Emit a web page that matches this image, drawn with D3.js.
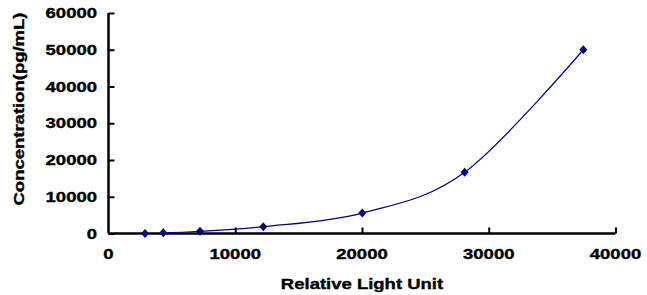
<!DOCTYPE html>
<html>
<head>
<meta charset="utf-8">
<script src="https://cdn.jsdelivr.net/npm/d3@7"></script>
<style>
  body { margin: 0; background: #fff; }
  text { font-family: "Liberation Sans", Arial, sans-serif; font-weight: bold; fill: #000; stroke: #000; stroke-width: 0.35px; }
</style>
</head>
<body>
<svg id="chart" width="647" height="295"></svg>
<script>
"use strict";

// standard curve points
const rlu = [2880, 4320, 7220, 12210, 20020, 28100, 37460];
const conc = [0, 206, 617, 1852, 5556, 16667, 50000];

const xTicks = [0, 10000, 20000, 30000, 40000];
const yTicks = [0, 10000, 20000, 30000, 40000, 50000, 60000];

const xTitle = "Relative Light Unit";
const yTitle = "Concentration(pg/mL)";

const svg = d3.select("#chart");
const navy = "#000080";
const stretch = 1.32; // labels in the picture are drawn wider than the font

let x = d3.scaleLinear().domain([0, 40000]).range([108.5, 615.5]);
let y = d3.scaleLinear().domain([0, 60000]).range([233.5, 13]);

function widen(sel) {
  sel.each(function() {
    let w = this.getComputedTextLength();
    d3.select(this).attr("textLength", w * stretch).attr("lengthAdjust", "spacingAndGlyphs");
  });
}

// y axis, ticks point inward
let yAxis = svg.append("g")
  .attr("transform", "translate(" + x(0) + ",0)")
  .call(d3.axisRight(y).tickValues(yTicks).tickSize(6).tickFormat(""));
yAxis.select(".domain").attr("d", "M0," + y(60000) + "V" + y(0))
  .attr("stroke", "#000").attr("stroke-width", 2.5);
yAxis.selectAll(".tick line").attr("stroke", "#000").attr("stroke-width", 2);

svg.append("g").selectAll("text")
  .data(yTicks)
  .join("text")
  .attr("x", 97)
  .attr("y", d => y(d) + 5)
  .attr("text-anchor", "end")
  .attr("font-size", 14)
  .text(d => d)
  .call(widen);

// x axis, ticks point up
let xAxis = svg.append("g")
  .attr("transform", "translate(0," + y(0) + ")")
  .call(d3.axisTop(x).tickValues(xTicks.slice(1)).tickSize(6).tickFormat(""));
xAxis.select(".domain").attr("d", "M" + x(0) + ",0H" + x(40000))
  .attr("stroke", "#000").attr("stroke-width", 2.5);
xAxis.selectAll(".tick line").attr("stroke", "#000").attr("stroke-width", 2);

svg.append("g").selectAll("text")
  .data(xTicks)
  .join("text")
  .attr("x", d => x(d))
  .attr("y", 259)
  .attr("text-anchor", "middle")
  .attr("font-size", 14)
  .text(d => d)
  .call(widen);

// axis titles
svg.append("text")
  .attr("x", 362)
  .attr("y", 289)
  .attr("text-anchor", "middle")
  .attr("font-size", 14)
  .text(xTitle)
  .call(widen);

svg.append("text")
  .attr("transform", "translate(24,109) rotate(-90)")
  .attr("text-anchor", "middle")
  .attr("font-size", 14)
  .text(yTitle)
  .call(widen);

// smoothed standard curve
let pts = rlu.map((v, i) => [v, conc[i]]);
let line = d3.line()
  .x(d => x(d[0]))
  .y(d => y(d[1]))
  .curve(d3.curveCatmullRom.alpha(0));

svg.append("path")
  .datum(pts.slice(1))
  .attr("d", line)
  .attr("fill", "none")
  .attr("stroke", navy)
  .attr("stroke-width", 1.2);

// diamond markers
svg.append("g").selectAll("path")
  .data(pts)
  .join("path")
  .attr("d", d => {
    let cx = x(d[0]), cy = y(d[1]);
    return "M" + cx + "," + (cy - 4.5) + "L" + (cx + 4) + "," + cy +
      "L" + cx + "," + (cy + 4.5) + "L" + (cx - 4) + "," + cy + "Z";
  })
  .attr("fill", navy);
</script>
</body>
</html>
